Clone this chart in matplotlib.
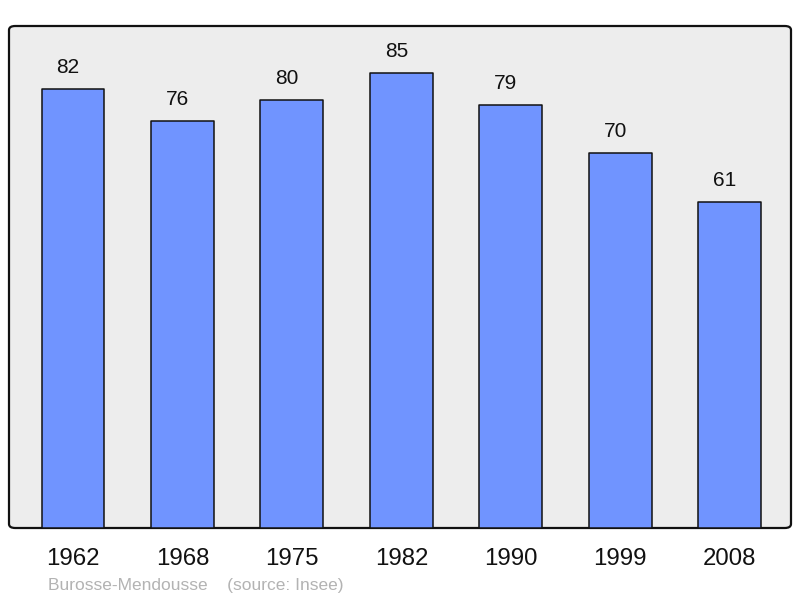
import matplotlib.pyplot as plt
from matplotlib.patches import FancyBboxPatch

years = ['1962', '1968', '1975', '1982', '1990', '1999', '2008']
population = [82, 76, 80, 85, 79, 70, 61]
footer = 'Burosse-Mendousse    (source: Insee)'

plt.rcParams['font.family'] = ['Liberation Sans', 'DejaVu Sans']

fig = plt.figure(figsize=(8, 5.98), dpi=100)
ax = fig.add_axes([9 / 800, 70 / 598, 782 / 800, 502 / 598])
ax.set_facecolor('none')
ax.set_xlim(-0.585, 6.56)
ax.set_ylim(0, 93.8)
for s in ax.spines.values():
    s.set_visible(False)
ax.set_xticks([])
ax.set_yticks([])

# rounded frame behind the bars
frame = FancyBboxPatch((0, 0), 1, 1, boxstyle='round,pad=0,rounding_size=0.008',
                       transform=ax.transAxes, facecolor='#ededed', edgecolor='#111111',
                       linewidth=1.6, clip_on=False, zorder=0)
ax.add_patch(frame)

x = range(len(years))
ax.bar(x, population, width=0.575, color='#7094ff', edgecolor='#111111',
       linewidth=1.1, joinstyle='round', zorder=2)

for i, v in zip(x, population):
    ax.annotate(str(v), xy=(i, v), xytext=(-3.5, 11.5), textcoords='offset points',
                ha='center', va='baseline', fontsize=15, color='#111111')

for i, label in zip(x, years):
    ax.annotate(label, xy=(i, 0), xytext=(0, -26.6), textcoords='offset points',
                ha='center', va='baseline', fontsize=17.3, color='#111111',
                annotation_clip=False)

fig.text(48 / 800, 1 - 590 / 598, footer, ha='left', va='baseline',
         fontsize=12.5, color='#b3b3b3')

fig.savefig('out.png', dpi=100)
